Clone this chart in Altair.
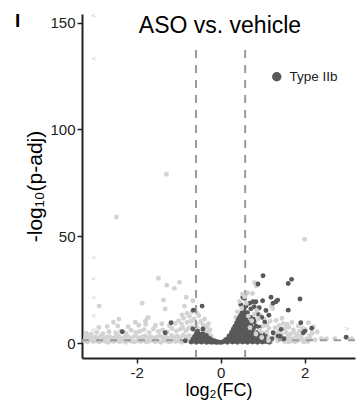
import altair as alt
import pandas as pd

FONT = "Liberation Sans"

# ---------------- data ----------------
# non-Type-IIb genes (light grey): (log2FC, -log10 p-adj)
LIGHT_BAND_LOW = [
    (-3.24, 1.0), (-3.17, 0.6), (-3.10, 1.3), (-3.03, 0.7), (-2.96, 1.1), (-2.89, 0.5), (-2.82, 1.2),
    (-2.75, 0.8), (-2.68, 0.4), (-2.61, 1.1), (-2.54, 0.7), (-2.47, 1.3), (-2.40, 0.6), (-2.33, 1.0),
    (-2.26, 0.4), (-2.19, 1.2), (-2.12, 0.8), (-2.05, 0.5), (-1.98, 1.1), (-1.91, 0.7), (-1.84, 1.3),
    (-1.77, 0.5), (-1.70, 0.9), (-1.63, 1.2), (-1.56, 0.6), (-1.49, 1.0), (-1.42, 0.4), (-1.35, 1.1),
    (-1.28, 0.8), (-1.21, 0.5), (-1.14, 1.2), (-1.07, 0.7), (-1.00, 1.0), (-0.93, 0.4), (-0.86, 0.9),
    (-0.79, 1.3), (-0.72, 0.6), (-0.65, 1.0), (-0.58, 0.5), (-0.51, 0.8), (-0.44, 0.4), (-0.37, 0.7),
    (-0.30, 0.3), (-0.23, 0.6), (-0.16, 0.3), (-0.10, 0.5),
]
LIGHT_BAND_MID = [
    (-3.21, 2.6), (-3.13, 3.1), (-3.06, 2.2), (-2.99, 2.9), (-2.92, 2.4), (-2.85, 3.3), (-2.78, 2.1),
    (-2.71, 2.7), (-2.64, 3.0), (-2.57, 2.3), (-2.50, 2.8), (-2.43, 3.4), (-2.36, 2.2), (-2.29, 2.6),
    (-2.22, 3.2), (-2.15, 2.4), (-2.08, 2.9), (-2.01, 3.5), (-1.94, 2.3), (-1.87, 2.8), (-1.80, 3.3),
    (-1.73, 2.5), (-1.66, 3.0), (-1.59, 2.2), (-1.52, 2.9), (-1.45, 3.4), (-1.38, 2.6), (-1.31, 3.1),
    (-1.24, 2.3), (-1.17, 3.6), (-1.10, 2.7), (-1.03, 3.2), (-0.96, 2.5), (-0.89, 3.8), (-0.82, 2.9),
    (-0.75, 3.4), (-0.68, 2.6), (-0.61, 3.1), (-0.54, 2.4), (-0.47, 2.9), (-0.40, 2.2), (-0.33, 2.5),
    (-0.26, 1.9), (-0.20, 1.6), (-0.14, 1.2),
]
LIGHT_BAND_HIGH = [
    (-3.20, 4.6), (-3.08, 4.2), (-2.95, 5.0), (-2.80, 4.4), (-2.66, 5.3), (-2.50, 4.8), (-2.38, 5.6),
    (-2.25, 4.5), (-2.13, 6.0), (-2.02, 4.9), (-1.92, 5.5), (-1.82, 6.3), (-1.70, 5.0), (-1.60, 6.6),
    (-1.48, 5.4), (-1.38, 6.1), (-1.27, 5.2), (-1.16, 6.8), (-1.06, 5.6), (-0.97, 6.4), (-0.90, 7.2),
    (-0.83, 5.8), (-0.76, 6.9), (-0.69, 7.5), (-0.62, 6.2), (-0.55, 7.0), (-0.48, 5.6), (-0.41, 6.4),
    (-0.34, 5.2), (-0.28, 4.0), (-0.22, 3.2),
    (-2.90, 7.3), (-2.70, 7.8), (-2.45, 8.0), (-2.20, 7.6), (-1.95, 8.3), (-1.78, 8.8), (-1.55, 8.2),
    (-1.40, 9.0), (-1.22, 8.1), (-1.08, 9.2), (-1.00, 10.4), (-0.93, 8.9), (-0.88, 11.6), (-0.80, 9.6),
    (-0.74, 12.5), (-0.70, 10.2), (-0.63, 11.3), (-0.58, 9.0), (-0.52, 12.8), (-0.47, 10.1),
    (-0.42, 8.5), (-0.38, 11.2), (-0.33, 7.6), (-0.29, 9.0), (-0.25, 6.2), (-0.80, 13.8),
    (-0.68, 14.6), (-0.56, 14.0), (-0.92, 13.2),
]
LIGHT_SCATTER_LEFT = [
    (-2.48, 59.0), (-1.29, 79.0), (-1.48, 30.3), (-1.28, 27.1), (-1.10, 25.6), (-0.98, 28.4),
    (-2.89, 17.3), (-1.87, 18.6), (-1.36, 20.1), (-1.32, 15.9), (-0.82, 21.4), (-0.66, 19.8),
    (-0.86, 17.3), (-2.55, 9.7), (-2.42, 11.2), (-2.03, 9.7), (-1.74, 11.8), (-1.79, 10.3),
    (-1.72, 12.0),
]
LIGHT_RIGHT = [
    (2.00, 48.6), (0.85, 26.7), (0.81, 28.2), (0.64, 23.5), (0.76, 23.2), (0.61, 22.8),
    (1.21, 17.3), (1.24, 16.2), (2.21, 7.6), (2.09, 9.5), (1.73, 6.1), (1.49, 9.2), (1.27, 4.6),
    (0.42, 9.5), (0.95, 13.0), (1.05, 11.0),
    (1.10, 8.7), (1.18, 10.2), (1.30, 7.2), (1.38, 5.5), (1.45, 4.0), (1.52, 6.8),
    (1.60, 3.2), (1.35, 2.2), (1.22, 1.5), (1.12, 3.0), (1.00, 4.5), (0.30, 7.0), (0.36, 12.0),
    (1.20, 0.6), (1.28, 2.8), (1.36, 1.0), (1.44, 2.4), (1.52, 0.7), (1.58, 1.9), (1.66, 4.2),
    (1.70, 0.9), (1.78, 2.6), (1.85, 1.2), (1.92, 3.3), (1.98, 0.6), (2.05, 2.0), (2.13, 2.2),
    (2.18, 4.6), (2.25, 1.5), (2.30, 5.2), (2.40, 2.0), (2.52, 2.0), (2.72, 2.0), (3.12, 2.0),
    (1.62, 7.4), (1.88, 5.5), (1.75, 5.0), (1.95, 7.0), (1.56, 5.0), (1.68, 2.0), (1.82, 3.8),
    (1.40, 8.2), (1.58, 8.8), (1.32, 10.6), (1.46, 11.6), (1.70, 9.6), (1.85, 8.0), (2.02, 6.2),
    (2.12, 3.6), (1.90, 2.0), (1.62, 0.5), (1.78, 0.6), (1.95, 1.5), (2.08, 0.7), (1.15, 7.0),
]
# light genes lying on top of the Type IIb mound
LIGHT_OVER = [
    (0.57, 21.7), (0.61, 18.6), (0.50, 16.2), (0.45, 19.5), (0.52, 23.0), (0.66, 12.6),
    (0.74, 10.4), (0.80, 13.4), (0.90, 11.2), (0.86, 15.2), (1.02, 8.0), (0.94, 6.0),
    (1.10, 5.2), (0.98, 2.6), (1.14, 1.2), (0.40, 14.6), (0.70, 7.2), (0.84, 4.2),
]
# Type IIb genes (dark grey)
DARK_LEFT = [
    (-0.70, 0.5), (-0.64, 0.9), (-0.58, 0.4), (-0.52, 0.8), (-0.46, 0.5), (-0.40, 0.9), (-0.34, 0.4),
    (-0.28, 0.7), (-0.22, 0.4), (-0.16, 0.6), (-0.10, 0.3), (-0.05, 0.5), (0.00, 0.3),
    (-0.66, 1.8), (-0.60, 2.2), (-0.54, 1.7), (-0.48, 2.1), (-0.42, 1.6), (-0.36, 2.0), (-0.30, 1.7),
    (-0.24, 1.5), (-0.18, 1.2), (-0.12, 0.9),
    (-0.62, 3.1), (-0.56, 3.4), (-0.50, 2.9), (-0.44, 3.3), (-0.38, 2.8), (-0.32, 2.6), (-0.26, 2.2),
    (-0.58, 4.4), (-0.50, 4.0), (-0.42, 4.2), (-0.34, 3.5),
    (-2.34, 5.3), (-1.18, 9.5), (-1.32, 4.8), (-0.84, 1.1), (-0.65, 15.4), (-0.44, 17.3),
    (-0.42, 6.6), (-0.66, 6.6), (-0.55, 5.5),
]
DARK_RIGHT_MASS = [
    (0.04, 0.5), (0.10, 0.8), (0.16, 0.4), (0.22, 0.9), (0.28, 0.5), (0.34, 0.8), (0.40, 0.4),
    (0.46, 0.9), (0.52, 0.5), (0.58, 0.8), (0.64, 0.4), (0.70, 0.9), (0.76, 0.5), (0.82, 0.8),
    (0.88, 0.4), (0.94, 0.9), (1.00, 0.5), (1.08, 0.7), (1.16, 0.4),
    (0.12, 1.6), (0.18, 2.1), (0.24, 1.8), (0.30, 2.3), (0.36, 1.9), (0.42, 2.2), (0.48, 1.7),
    (0.54, 2.3), (0.60, 1.9), (0.66, 2.2), (0.72, 1.8), (0.78, 2.3), (0.84, 1.9), (0.90, 2.1),
    (1.04, 2.2), (1.22, 2.0),
    (0.20, 3.3), (0.26, 3.7), (0.32, 3.4), (0.38, 3.8), (0.44, 3.3), (0.50, 3.7), (0.56, 3.4),
    (0.62, 3.8), (0.68, 3.3), (0.74, 3.7), (0.80, 3.4), (0.92, 3.3), (1.06, 3.9),
    (0.26, 4.9), (0.32, 5.3), (0.38, 4.8), (0.44, 5.2), (0.50, 4.9), (0.56, 5.3), (0.62, 4.8),
    (0.68, 5.2), (0.76, 4.9), (0.88, 5.0),
    (0.30, 6.4), (0.36, 6.8), (0.42, 6.3), (0.48, 6.7), (0.54, 6.4), (0.60, 6.8), (0.66, 6.3),
    (0.78, 6.7), (0.92, 7.4),
    (0.34, 7.9), (0.40, 8.3), (0.46, 7.8), (0.52, 8.2), (0.58, 7.9), (0.64, 8.6), (0.72, 8.3),
    (0.84, 8.0),
    (0.38, 9.5), (0.44, 9.8), (0.50, 9.4), (0.56, 9.8), (0.62, 10.2), (0.70, 9.6), (0.80, 10.0),
    (0.42, 11.0), (0.48, 11.3), (0.54, 10.9), (0.60, 11.6), (0.72, 12.0),
    (0.46, 12.5), (0.52, 12.8), (0.58, 13.2), (0.50, 14.0), (0.56, 14.6), (0.64, 14.2),
    (0.55, 15.8),
]
DARK_SCATTER_RIGHT = [
    (1.01, 31.5), (0.89, 27.6), (1.61, 27.9), (1.69, 29.8), (0.57, 20.9), (0.53, 21.4),
    (0.77, 19.3), (1.00, 19.8), (1.20, 21.4), (1.32, 19.3), (1.36, 20.1), (1.25, 18.6),
    (0.84, 19.3), (0.69, 18.6), (1.89, 20.6), (1.61, 15.4), (1.91, 9.5), (2.01, 5.6), (2.17, 6.9),
    (1.44, 6.4), (1.25, 4.8), (1.37, 3.3), (1.42, 3.1), (1.51, 2.0), (2.99, 2.7), (0.95, 3.3),
    (1.03, 1.5), (1.97, 4.8), (0.80, 17.0), (0.92, 16.5), (1.08, 15.2), (1.15, 13.0), (0.98, 12.0),
    (1.05, 9.8), (0.60, 17.2), (0.72, 16.0), (0.48, 18.0), (0.88, 13.6), (0.78, 11.2),
]
# genes beyond the x range, drawn as arrow glyphs at the panel edges
CLIPPED_LEFT_Y = [153.0, 133.0, 40.0, 30.0, 21.0, 12.6, 6.0]
CLIPPED_RIGHT_Y = [6.5]

FC_CUTOFFS = [-0.585, 0.585]
P_CUTOFF = 1.3
X_TICKS = [-2, 0, 2]
Y_TICKS = [0, 50, 100, 150]
X_DOMAIN = [-3.3, 3.2]
Y_DOMAIN = [-7, 154]


def frame(points, group):
    return pd.DataFrame({"log2fc": [p[0] for p in points],
                         "nlp": [p[1] for p in points],
                         "grp": group})


light = pd.concat([frame(L, "Other") for L in
                   [LIGHT_BAND_LOW, LIGHT_BAND_MID, LIGHT_BAND_HIGH, LIGHT_SCATTER_LEFT, LIGHT_RIGHT]],
                  ignore_index=True)
light_over = frame(LIGHT_OVER, "Other")
dark = pd.concat([frame(L, "Type IIb") for L in [DARK_LEFT, DARK_RIGHT_MASS, DARK_SCATTER_RIGHT]],
                 ignore_index=True)

vlines = pd.DataFrame({"log2fc": FC_CUTOFFS, "nlp": [Y_DOMAIN[0]] * 2, "nlp2": [140.0] * 2})
hline = pd.DataFrame({"nlp": [P_CUTOFF]})
clip_df = pd.concat([
    pd.DataFrame({"log2fc": [-3.02] * len(CLIPPED_LEFT_Y), "nlp": CLIPPED_LEFT_Y, "t": ["<"] * len(CLIPPED_LEFT_Y)}),
    pd.DataFrame({"log2fc": [3.0] * len(CLIPPED_RIGHT_Y), "nlp": CLIPPED_RIGHT_Y, "t": [">"] * len(CLIPPED_RIGHT_Y)}),
], ignore_index=True)

xs = alt.Scale(domain=X_DOMAIN, nice=False, zero=False)
ys = alt.Scale(domain=Y_DOMAIN, nice=False, zero=False)
X = alt.X("log2fc:Q", scale=xs,
          axis=alt.Axis(values=X_TICKS, title="log₂(FC)", labelExpr="'' + datum.value"))
Y = alt.Y("nlp:Q", scale=ys, axis=alt.Axis(values=Y_TICKS, title="-log₁₀(p-adj)"))

color_scale = alt.Scale(domain=["Type IIb", "Other"], range=["#595959", "#d3d3d3"])
legend = alt.Legend(values=["Type IIb"], title=None, orient="none", legendX=188, legendY=56,
                    symbolType="circle", symbolSize=90, labelFontSize=13.5, labelFont=FONT,
                    labelColor="#222222", symbolStrokeWidth=0, padding=0, labelOffset=6)
COLOR = alt.Color("grp:N", scale=color_scale, legend=legend)

pts_light = alt.Chart(light).mark_circle(size=24, opacity=1).encode(x=X, y=Y, color=COLOR)
pts_dark = alt.Chart(dark).mark_circle(size=24, opacity=1).encode(x=X, y=Y, color=COLOR)
pts_light_over = alt.Chart(light_over).mark_circle(size=24, opacity=1).encode(x=X, y=Y, color=COLOR)

rule_h = alt.Chart(hline).mark_rule(color="#9a9a9a", strokeDash=[7, 7], strokeWidth=1.8).encode(y=Y)
rule_v = alt.Chart(vlines).mark_rule(color="#9a9a9a", strokeDash=[8, 7], strokeWidth=2).encode(
    x=X, y=Y, y2="nlp2:Q")

clip_marks = alt.Chart(clip_df).mark_text(fontSize=8, color="#c8c8c8", font=FONT).encode(
    x=X, y=Y, text="t:N")

title_df = pd.DataFrame({"t": ["ASO vs. vehicle"]})
title = alt.Chart(title_df).mark_text(fontSize=23, font=FONT, color="#000000", align="center",
                                      baseline="alphabetic").encode(
    x=alt.value(138), y=alt.value(19), text="t:N")
panel_df = pd.DataFrame({"t": ["I"]})
panel = alt.Chart(panel_df).mark_text(fontSize=19, font=FONT, fontWeight="bold", color="#000000",
                                      align="left", baseline="alphabetic").encode(
    x=alt.value(-67), y=alt.value(13), text="t:N")

chart = alt.layer(pts_light, rule_h, rule_v, pts_dark, pts_light_over, clip_marks, title, panel).properties(
    width=273, height=344,
    autosize=alt.AutoSizeParams(type="none"),
    padding={"left": 82, "top": 14, "right": 6, "bottom": 44},
).configure_view(stroke=None).configure_axis(
    grid=False, domainColor="#222222", domainWidth=2, tickColor="#222222", tickWidth=1.5,
    tickSize=5, labelFont=FONT, labelFontSize=15, labelColor="#222222", labelPadding=2,
    titleFont=FONT, titleFontWeight="normal", titleColor="#000000",
).configure_axisY(titlePadding=4, titleFontSize=21).configure_axisX(titlePadding=1, titleFontSize=18)

chart.save("out.html", embed_options={"renderer": "svg", "actions": False})
